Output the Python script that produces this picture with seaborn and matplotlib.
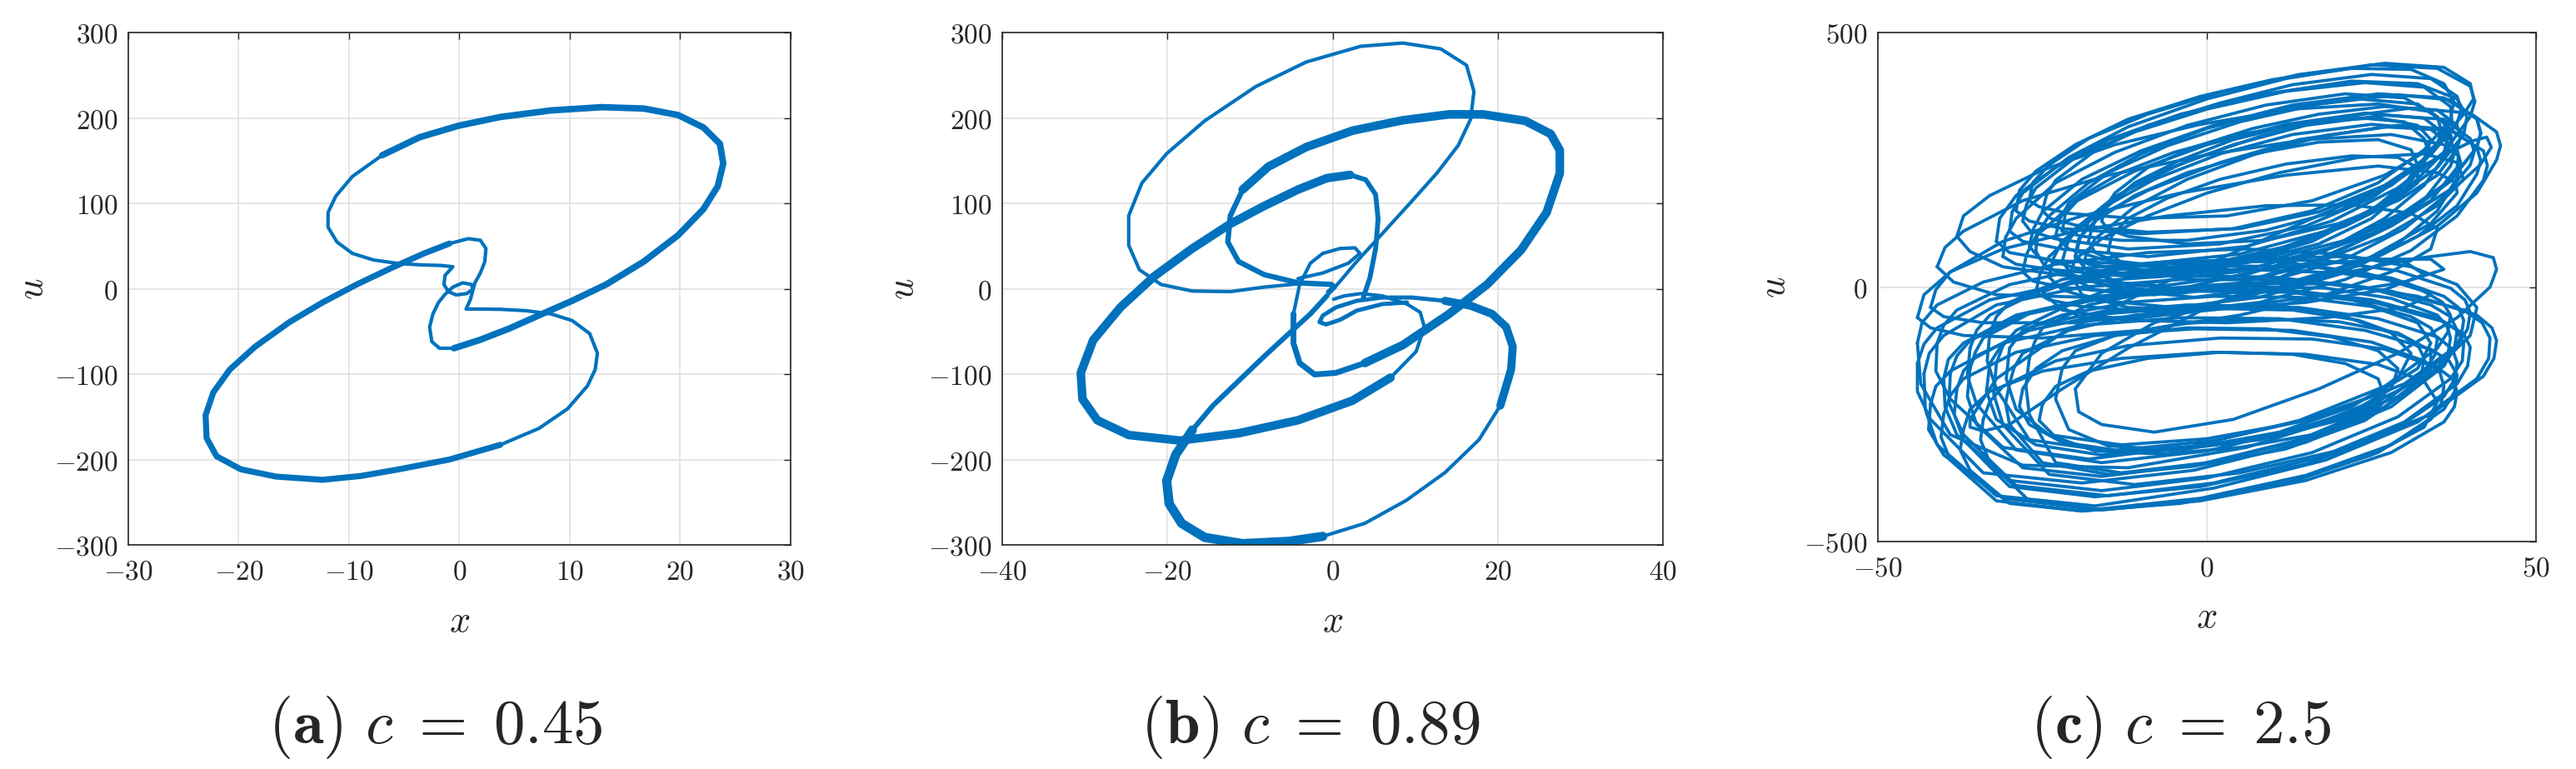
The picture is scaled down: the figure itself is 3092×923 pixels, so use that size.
import matplotlib
matplotlib.use("Agg")
import matplotlib.pyplot as plt
import pandas as pd
import seaborn as sns

BLUE = "#0072BD"

# ---------------- (a) c = 0.45 : orbit, (x, u) pairs
a_upper_band = [(-7.0, 156.3), (-3.6, 177.4), (-0.1, 190.8), (3.7, 201.1), (8.3, 208.8),
                (12.9, 212.6), (16.7, 211.0), (19.8, 203.4), (22.1, 188.9), (23.6, 169.7),
                (23.9, 146.7), (23.4, 119.9), (22.1, 93.1), (19.8, 62.5), (16.7, 31.8),
                (13.3, 5.0), (10.2, -14.2), (7.5, -29.5), (4.5, -46.7), (1.8, -60.2), (-0.5, -69.7)]
a_upper_inner = [(-0.5, -69.7), (-1.8, -69.7), (-2.5, -62.0), (-2.7, -44.8), (-2.4, -29.5),
                 (-1.9, -16.1), (-1.3, -6.5), (-0.6, 1.9), (0.3, 6.9), (1.1, 5.0), (1.2, -0.8),
                 (0.65, -5.7), (-0.3, -7.3), (-1.0, -3.4), (-1.4, 5.0), (-1.3, 15.7), (-0.6, 25.7),
                 (-1.6, 27.2), (-3.6, 28.0), (-5.5, 29.5), (-7.8, 33.7), (-9.7, 41.4), (-11.1, 54.8),
                 (-11.9, 72.0), (-11.9, 89.3), (-11.2, 108.4), (-9.7, 131.4), (-7.0, 156.3)]
a_lower_band = [(3.7, -182.8), (-0.9, -200.0), (-5.5, -211.5), (-8.9, -219.2), (-12.4, -223.8),
                (-16.6, -220.0), (-19.8, -211.5), (-22.0, -196.2), (-22.9, -175.1), (-23.0, -148.3),
                (-22.3, -121.5), (-20.8, -94.6), (-18.5, -67.8), (-15.4, -39.1), (-12.4, -16.1),
                (-9.3, 5.0), (-6.2, 24.1), (-3.2, 41.4), (-0.9, 52.9)]
a_lower_inner = [(-0.9, 52.9), (0.8, 58.6), (1.9, 56.7), (2.4, 47.1), (2.3, 31.8), (1.9, 18.4),
                 (1.4, 6.9), (1.2, -2.7), (1.0, -12.3), (0.6, -23.8), (1.8, -23.8), (3.7, -24.1),
                 (6.0, -25.7), (8.3, -29.5), (10.2, -37.2), (11.8, -52.5), (12.5, -75.5),
                 (12.3, -94.6), (11.6, -113.8), (9.8, -140.6), (7.2, -163.6), (3.7, -182.8)]

# ---------------- (b) c = 0.89
b_top_loop = [(-4.2, 5.7), (-8.3, 1.9), (-12.4, -3.4), (-17.0, -2.7), (-20.8, 5.0), (-23.4, 22.2),
              (-24.7, 51.0), (-24.7, 85.4), (-23.1, 123.8), (-20.1, 158.2), (-15.5, 196.6),
              (-9.3, 236.8), (-3.2, 265.5), (3.4, 283.9), (8.5, 287.7), (13.1, 280.8), (16.2, 261.7),
              (17.1, 231.0), (16.7, 198.5), (15.2, 167.8), (12.6, 135.2), (9.6, 102.7), (6.0, 64.4),
              (2.9, 31.8), (0.9, 8.8), (-0.7, -8.4)]
b_diag = [(-0.7, -8.4), (-2.7, -29.5), (-5.3, -52.5), (-8.3, -79.3), (-11.4, -108.0),
          (-14.5, -136.8), (-17.0, -165.5)]
b_bottom_band = [(-17.0, -165.5), (-19.0, -194.3), (-20.1, -224.9), (-19.8, -251.7), (-18.3, -274.7),
                 (-15.5, -291.2), (-10.9, -298.5), (-5.3, -295.8), (-1.2, -290.0)]
b_bottom_thin = [(-1.2, -290.0), (3.9, -274.7), (8.9, -247.9), (13.6, -215.3), (17.7, -177.0),
                 (20.3, -136.8)]
b_bottom_right = [(20.3, -136.8), (21.6, -94.6), (21.8, -67.8), (21.0, -44.8), (19.3, -29.5),
                  (16.7, -19.9), (13.6, -14.2)]
b_center_low = [(13.6, -14.2), (9.6, -10.3), (6.0, -10.3), (2.9, -14.2), (0.4, -21.8), (-1.2, -31.4),
                (-1.6, -39.1), (-0.8, -41.8), (0.9, -36.4), (2.9, -25.7), (6.0, -18.0), (9.0, -16.1)]
b_center_up = [(-4.2, 11.9), (-1.2, 18.4), (1.9, 29.9), (3.3, 41.4), (2.7, 47.9), (0.9, 47.1),
               (-1.2, 41.4), (-2.7, 29.9), (-4.0, 5.0), (-4.75, -29.5)]
b_mid_loop = [(-4.75, -29.5), (-4.75, -64.0), (-4.0, -87.0), (-2.2, -100.4), (0.4, -98.5), (3.9, -87.0)]
b_right_band = [(3.9, -87.0), (8.5, -65.9), (14.1, -29.5), (18.7, 5.0), (22.8, 45.2), (25.9, 89.3),
                (27.5, 135.2), (27.5, 162.1), (26.4, 181.2), (23.3, 196.6), (18.2, 204.2),
                (14.1, 204.2), (8.5, 197.3), (2.4, 185.1), (-3.2, 165.9), (-7.8, 142.9), (-10.9, 116.1)]
b_right_tail = [(-10.9, 116.1), (-12.4, 85.4), (-12.7, 54.8), (-11.4, 31.8), (-8.3, 16.5),
                (-4.2, 6.9), (-0.15, 5.0), (0.2, 2.0), (-0.5, -4.0)]
b_inner_top = [(3.7, -10.3), (4.5, 12.6), (5.2, 47.1), (5.5, 81.6), (5.2, 110.3), (4.0, 127.6),
               (2.1, 133.3)]
b_left_band = [(2.1, 133.3), (-0.7, 129.5), (-4.2, 116.1), (-8.3, 96.9), (-12.4, 75.9), (-17.0, 47.1),
               (-21.6, 14.6), (-25.7, -21.8), (-29.0, -60.2), (-30.5, -98.5), (-30.3, -129.1),
               (-28.5, -154.0), (-24.7, -171.3), (-18.5, -177.8), (-11.4, -169.3), (-4.2, -154.0),
               (2.4, -131.0), (7.0, -104.2)]
b_left_tail = [(7.0, -104.2), (10.1, -73.6), (11.1, -44.8), (10.6, -27.6), (9.0, -18.0), (6.0, -8.4),
               (3.4, -5.7), (1.4, -8.4), (0.1, -12.3)]

# ---------------- (c) c = 2.5 : individual laps of the chaotic orbit
c_up01 = [(-26, 70), (-25.8, 105), (-24, 140), (-18, 205), (-10, 262), (0, 312), (11, 350), (23, 370),
          (32, 360), (36.5, 320), (37.2, 292), (36.5, 265), (33, 200), (27, 135), (18, 72), (6, 25),
          (-7, 2), (-19, 15), (-24.5, 38)]
c_up02 = [(-30, 110), (-29.6, 148), (-28, 185), (-21, 255), (-12, 315), (0, 370), (12, 410), (25, 437),
          (35, 430), (40, 395), (40.7, 365), (40, 335), (36, 265), (29, 195), (19, 130), (6, 80),
          (-9, 60), (-22, 75), (-28, 90)]
c_up03 = [(-18, 90), (-17.4, 120), (-16, 150), (-11, 205), (-4, 250), (4, 290), (13, 318), (23, 333),
          (30, 325), (33, 292), (33.6, 268), (33, 245), (30, 190), (25, 135), (17, 85), (6, 48),
          (-5, 35), (-14, 50), (-17, 68)]
c_up04 = [(-24, 20), (-23.4, 55), (-22, 90), (-16, 155), (-8, 212), (2, 262), (13, 300), (25, 320),
          (34, 310), (38, 270), (38.6, 242), (38, 215), (35, 150), (29, 85), (20, 25), (8, -20),
          (-5, -40), (-17, -25), (-22, -5)]
c_up05 = [(-20, 60), (-19.3, 95), (-18, 128), (-12, 192), (-3, 248), (8, 296), (19, 332), (31, 352),
          (40, 342), (44, 305), (44.6, 278), (44, 250), (41, 185), (35, 120), (26, 60), (14, 15),
          (1, -8), (-12, 5), (-18, 30)]
c_up06 = [(-28, 130), (-27.4, 163), (-26, 195), (-20, 255), (-11, 305), (0, 350), (12, 385), (24, 402),
          (33, 393), (37, 355), (37.2, 328), (36, 300), (32, 238), (25, 175), (15, 120), (2, 85),
          (-12, 75), (-23, 95), (-26.8, 110)]
c_up07 = [(-22, 50), (-21.3, 83), (-20, 115), (-14, 178), (-6, 232), (4, 280), (15, 318), (27, 338),
          (36, 330), (40, 292), (40.6, 266), (40, 240), (36, 178), (30, 115), (21, 55), (9, 10),
          (-4, -12), (-16, 5), (-20.5, 25)]
c_up08 = [(-31, 60), (-30.6, 98), (-29, 135), (-23, 205), (-14, 265), (-3, 318), (9, 358), (21, 380),
          (30, 372), (35, 335), (35.6, 308), (35, 280), (31, 215), (25, 150), (16, 90), (3, 40),
          (-11, 20), (-24, 35), (-29, 45)]
c_up09 = [(-16, 130), (-15.3, 158), (-14, 185), (-9, 235), (-2, 275), (7, 312), (17, 340), (27, 355),
          (35, 348), (38, 318), (38.5, 295), (38, 272), (35, 220), (29, 170), (20, 125), (9, 92),
          (-3, 85), (-12, 100), (-15, 113)]
c_up10 = [(-26, -10), (-25.4, 25), (-24, 60), (-18, 130), (-9, 190), (2, 245), (14, 290), (27, 315),
          (37, 308), (42, 268), (42.6, 239), (42, 210), (38, 140), (31, 72), (21, 15), (8, -30),
          (-6, -50), (-19, -38), (-24, -25)]
c_up11 = [(-23, 100), (-22.4, 133), (-21, 165), (-15, 225), (-6, 278), (5, 325), (17, 360), (29, 378),
          (37, 368), (41, 330), (41.6, 302), (41, 275), (37, 210), (30, 148), (21, 92), (9, 52),
          (-5, 38), (-16, 55), (-21, 75)]
c_up12 = [(-28, 30), (-27.4, 65), (-26, 100), (-20, 168), (-11, 228), (0, 280), (12, 320), (24, 342),
          (33, 332), (37, 292), (37.6, 265), (37, 238), (33, 172), (26, 108), (16, 50), (4, 5),
          (-10, -15), (-22, 0), (-26.5, 12)]
c_up13 = [(-19, 30), (-18.4, 62), (-17, 95), (-11, 158), (-3, 212), (7, 260), (18, 298), (29, 318),
          (37, 310), (41, 275), (41.6, 248), (41, 222), (38, 160), (32, 100), (23, 42), (11, 0),
          (-2, -20), (-13, -5), (-17.5, 12)]
c_up14 = [(-25, 150), (-24.4, 180), (-23, 210), (-17, 268), (-9, 318), (2, 362), (13, 398), (25, 418),
          (34, 410), (38, 375), (38.6, 348), (38, 322), (34, 260), (27, 200), (17, 148), (5, 115),
          (-9, 108), (-20, 122), (-23.8, 135)]
c_up15 = [(-27, 80), (-26.4, 114), (-25, 148), (-19, 212), (-10, 268), (1, 318), (13, 358), (26, 380),
          (36, 372), (41, 332), (41.6, 303), (41, 275), (37, 208), (30, 142), (20, 82), (7, 38),
          (-8, 20), (-20, 38), (-25.5, 58)]
c_up16 = [(-20, 60), (-19.5, 95), (-17, 130), (-11, 180), (-3, 225), (7, 262), (17, 285), (26, 290),
          (31, 270), (32, 240), (30, 200), (25, 150), (17, 100), (7, 60), (-3, 35), (-12, 35), (-18, 45)]
c_up17 = [(-22, 110), (-21.5, 145), (-19, 180), (-13, 225), (-5, 265), (5, 300), (16, 325), (26, 333),
          (32, 318), (34, 290), (33, 250), (28, 200), (20, 150), (9, 112), (-3, 92), (-13, 92), (-19, 100)]
c_up18 = [(-29, 150), (-28.5, 190), (-26, 228), (-20, 280), (-12, 330), (-1, 375), (10, 408), (22, 430),
          (31, 428), (36, 400), (37.5, 365), (37, 330), (33, 270), (26, 205), (16, 150), (4, 115),
          (-10, 105), (-22, 115), (-27, 130)]
c_up19 = [(-32, 90), (-31.5, 135), (-29, 180), (-23, 235), (-15, 290), (-4, 340), (9, 380), (22, 405),
          (32, 400), (38, 370), (39.5, 335), (39, 300), (35, 235), (28, 170), (18, 110), (5, 65),
          (-10, 45), (-23, 52), (-30, 68)]
c_up20 = [(-27, 170), (-26.5, 205), (-24, 240), (-18, 292), (-9, 340), (2, 383), (14, 418), (27, 440),
          (36, 432), (40, 400), (40.5, 370), (39, 340), (35, 280), (27, 220), (16, 170), (3, 140),
          (-11, 135), (-21, 145), (-25.5, 158)]
c_up21 = [(-15, 70), (-14.5, 100), (-12, 135), (-6, 175), (2, 212), (12, 242), (22, 258), (29, 255),
          (32, 235), (32, 205), (28, 165), (21, 120), (12, 80), (2, 50), (-7, 38), (-13, 48)]
c_up22 = [(-21, 20), (-20, 55), (-16, 95), (-9, 140), (0, 185), (11, 225), (23, 255), (33, 262),
          (38, 245), (39, 212), (35, 160), (27, 100), (16, 45), (4, 5), (-8, -15), (-17, -5)]
c_lo01 = [(-40, -180), (-39.3, -142), (-37, -110), (-29, -55), (-17, -20), (-3, -5), (12, -5), (25, -25),
          (35, -60), (37.8, -83), (39, -110), (38.8, -145), (37, -180), (29, -255), (16, -325), (0, -375),
          (-16, -400), (-30, -380), (-38, -290), (-39.8, -235)]
c_lo02 = [(-43, -170), (-42.2, -130), (-40, -95), (-32, -35), (-19, 0), (-4, 15), (13, 14), (28, -8),
          (39, -45), (41.8, -70), (43, -100), (42.8, -140), (41, -180), (32, -265), (18, -340), (1, -395),
          (-17, -430), (-32, -410), (-41, -310), (-42.8, -240)]
c_lo03 = [(-30, -190), (-29.3, -158), (-28, -130), (-21, -85), (-11, -55), (1, -42), (13, -45),
          (23, -65), (30, -98), (32.2, -118), (33, -140), (32.6, -170), (31, -200), (24, -262),
          (12, -318), (-2, -352), (-15, -368), (-25, -345), (-30, -270), (-30.6, -228)]
c_lo04 = [(-36, -120), (-35, -85), (-33, -55), (-25, -5), (-13, 28), (1, 42), (16, 40), (28, 18),
          (36, -18), (38.2, -40), (39, -65), (38.6, -98), (37, -130), (29, -205), (16, -272), (0, -322),
          (-16, -345), (-29, -320), (-35, -230), (-36.4, -175)]
c_lo05 = [(-42, -230), (-41.2, -195), (-39, -165), (-31, -110), (-19, -75), (-4, -60), (11, -62),
          (24, -85), (34, -122), (36.8, -145), (38, -172), (37.6, -206), (36, -240), (28, -310),
          (15, -370), (-1, -415), (-17, -437), (-31, -415), (-40, -330), (-42.3, -280)]
c_lo06 = [(-32, -150), (-31, -115), (-29, -85), (-21, -35), (-9, -5), (5, 8), (20, 6), (32, -18),
          (41, -55), (43.3, -80), (44, -105), (43.6, -140), (42, -175), (34, -250), (21, -318),
          (5, -365), (-11, -388), (-24, -368), (-31, -270), (-32.4, -210)]
c_lo07 = [(-38, -200), (-37, -165), (-35, -135), (-27, -85), (-15, -52), (-1, -38), (14, -40),
          (26, -62), (35, -98), (37.3, -122), (38, -148), (37.6, -182), (36, -215), (28, -285),
          (15, -348), (-1, -392), (-17, -412), (-30, -392), (-37, -300), (-38.4, -250)]
c_lo08 = [(-41, -110), (-40, -75), (-38, -45), (-30, 5), (-18, 38), (-4, 52), (11, 50), (24, 28),
          (33, -8), (35.8, -30), (37, -55), (36.6, -88), (35, -120), (27, -195), (14, -262), (-2, -312),
          (-18, -338), (-31, -315), (-39, -220), (-41.2, -165)]
c_lo09 = [(-34, -260), (-33, -225), (-31, -195), (-23, -145), (-12, -115), (2, -100), (16, -102),
          (27, -122), (35, -158), (37.3, -180), (38, -205), (37.6, -235), (36, -265), (28, -325),
          (15, -380), (-1, -420), (-16, -438), (-27, -420), (-33, -345), (-34.4, -300)]
c_lo10 = [(-27, -140), (-26.2, -108), (-25, -80), (-18, -35), (-8, -8), (5, 2), (18, -2), (28, -22),
          (35, -55), (36.5, -78), (37, -100), (36.6, -132), (35, -165), (27, -235), (15, -300),
          (0, -345), (-13, -365), (-23, -345), (-27, -250), (-27.5, -195)]
c_lo11 = [(-44, -150), (-43, -112), (-41, -80), (-33, -25), (-21, 8), (-6, 22), (10, 20), (24, 0),
          (34, -35), (37, -58), (38, -85), (37.6, -120), (36, -155), (28, -235), (15, -305), (-2, -360),
          (-19, -385), (-34, -365), (-42, -260), (-44, -205)]
c_lo12 = [(-39, -170), (-38, -135), (-36, -105), (-28, -55), (-16, -22), (-2, -8), (13, -10), (26, -32),
          (36, -68), (39, -92), (40, -118), (39.6, -155), (38, -190), (30, -265), (17, -335), (1, -385),
          (-15, -410), (-29, -390), (-37, -290), (-39.2, -228)]
c_lo13 = [(-33, -90), (-32, -58), (-30, -30), (-22, 15), (-10, 42), (4, 55), (18, 52), (29, 32),
          (37, -2), (39.2, -25), (40, -50), (39.6, -82), (38, -115), (30, -190), (17, -255), (1, -302),
          (-15, -322), (-27, -300), (-32, -200), (-33.4, -145)]
c_lo14 = [(-40, -250), (-39, -213), (-37, -180), (-29, -128), (-17, -95), (-2, -82), (13, -85),
          (25, -108), (33, -145), (35.4, -168), (36, -195), (35.6, -228), (34, -260), (26, -325),
          (13, -382), (-3, -422), (-19, -440), (-32, -420), (-39, -340), (-40.4, -295)]
c_lo15 = [(-36, -160), (-35.2, -128), (-34, -100), (-27, -52), (-16, -20), (-3, -6), (10, -6),
          (22, -25), (31, -58), (34, -80), (35, -102), (34.6, -134), (33, -165), (26, -235), (14, -300),
          (-1, -348), (-16, -372), (-28, -355), (-35, -270), (-36.4, -215)]
c_lo16 = [(-28, -200), (-26, -160), (-22, -125), (-14, -95), (-3, -80), (9, -82), (19, -98), (26, -125),
          (29, -160), (28, -200), (22, -245), (12, -285), (-1, -312), (-13, -322), (-22, -305),
          (-27, -270), (-28.5, -235)]
c_lo17 = [(-33, -150), (-31, -110), (-26, -75), (-16, -48), (-3, -35), (10, -38), (21, -58), (28, -90),
          (31, -130), (29, -180), (22, -235), (11, -285), (-3, -318), (-16, -330), (-26, -310),
          (-32, -260), (-33.5, -205)]
c_lo18 = [(-44, -110), (-43.3, -70), (-41, -35), (-34, 10), (-23, 45), (-9, 68), (6, 75), (20, 65),
          (31, 40), (38, 5), (41, -40), (40, -95), (34, -170), (22, -250), (6, -315), (-12, -355),
          (-28, -350), (-39, -290), (-43.5, -190)]
c_lo19 = [(-37, -280), (-36, -240), (-33, -205), (-25, -165), (-13, -140), (1, -128), (15, -132),
          (26, -152), (33, -185), (35, -225), (33, -275), (25, -330), (12, -385), (-4, -425), (-19, -440),
          (-30, -425), (-36, -360), (-37.5, -320)]
c_lo20 = [(-25, -230), (-23, -195), (-18, -165), (-9, -140), (2, -128), (13, -132), (21, -150),
          (26, -180), (27, -215), (24, -255), (16, -290), (5, -315), (-7, -328), (-17, -322), (-23, -295),
          (-25.5, -262)]
c_lo21 = [(-30, -120), (-28, -85), (-22, -55), (-12, -30), (1, -18), (14, -20), (25, -38), (32, -70),
          (34, -110), (32, -160), (25, -215), (14, -265), (0, -298), (-13, -310), (-24, -290), (-29, -240),
          (-30.5, -180)]
c_lo22 = [(-22, -160), (-20, -125), (-14, -95), (-4, -72), (8, -62), (20, -68), (29, -90), (34, -125),
          (34, -165), (29, -215), (20, -262), (8, -300), (-5, -320), (-15, -312), (-21, -280), (-23, -220)]
c_mid1 = [(-22, -40), (-15, -5), (-3, 20), (12, 40), (26, 55), (34, 55), (36, 35), (30, 10), (18, -15),
          (4, -40), (-10, -60), (-19, -60)]
c_mid2 = [(-18, 30), (-8, 45), (6, 55), (20, 60), (30, 50), (33, 25), (27, -5), (15, -30), (0, -45),
          (-12, -40), (-19, -15), (-20, 10)]
c_mid3 = [(-25, -10), (-20, 15), (-10, 30), (5, 35), (20, 28), (30, 10), (34, -15), (30, -40), (18, -60),
          (3, -70), (-12, -65), (-22, -45)]
c_wide1 = [(-41, 40), (-39.8, 78), (-37, 110), (-28, 170), (-15, 220), (0, 260), (15, 290), (28, 300),
           (36, 280), (38.2, 258), (38, 235), (34, 170), (25, 105), (12, 45), (-3, 0), (-18, -20),
           (-32, -15), (-38.5, 10)]
c_wide2 = [(-42, -40), (-41.2, -5), (-39, 30), (-31, 90), (-19, 140), (-4, 185), (12, 220), (26, 238),
           (35, 225), (37.8, 205), (38, 185), (34, 125), (25, 60), (12, 0), (-4, -45), (-20, -70),
           (-34, -70), (-40, -58)]
c_wide3 = [(-20, -200), (-16, -130), (-8, -70), (4, -20), (18, 20), (31, 55), (40, 70), (43.5, 58),
           (44, 35), (43, 0), (38, -60), (29, -130), (17, -200), (4, -260), (-8, -285), (-16, -270),
           (-19.5, -245)]
c_wide4 = [(-38, 100), (-37, 140), (-33, 180), (-25, 230), (-14, 280), (-1, 320), (13, 350), (26, 360),
           (34, 345), (37, 310), (36, 265), (31, 200), (22, 130), (10, 70), (-5, 30), (-20, 20),
           (-31, 40), (-36, 70)]
c_wide5 = [(-44, -60), (-43, -15), (-39, 30), (-31, 75), (-20, 110), (-6, 140), (9, 160), (22, 162),
           (31, 145), (35, 115), (34, 75), (28, 30), (18, -15), (5, -55), (-10, -85), (-25, -100),
           (-37, -95), (-42, -80)]
c_cross1 = [(-36, -260), (-32, -180), (-22, -90), (-8, 0), (8, 90), (24, 180), (36, 260), (40.5, 288),
            (42.5, 295), (43.2, 275), (41.5, 240), (38, 200), (28, 120), (15, 40), (0, -40),
            (-12, -120), (-22, -200), (-30, -270), (-34, -283), (-36, -275)]

x_ticks = [[-30, -20, -10, 0, 10, 20, 30], [-40, -20, 0, 20, 40], [-50, 0, 50]]
u_ticks = [[-300, -200, -100, 0, 100, 200, 300], [-300, -200, -100, 0, 100, 200, 300], [-500, 0, 500]]
captions = [r"$(\mathbf{a})\ c\;=\;0.45$", r"$(\mathbf{b})\ c\;=\;0.89$", r"$(\mathbf{c})\ c\;=\;2.5$"]

a_pieces = [a_upper_band, a_upper_inner, a_lower_band, a_lower_inner]
b_pieces = [b_top_loop, b_diag, b_bottom_band, b_bottom_thin, b_bottom_right, b_center_low,
            b_center_up, b_mid_loop, b_right_band, b_right_tail, b_inner_top, b_left_band, b_left_tail]
c_laps = [c_up01, c_up02, c_up03, c_up04, c_up05, c_up06, c_up07, c_up08, c_up09, c_up10, c_up11,
          c_up12, c_up13, c_up14, c_up15, c_up16, c_up17, c_up18, c_up19, c_up20, c_up21, c_up22,
          c_lo01, c_lo02, c_lo03, c_lo04, c_lo05, c_lo06, c_lo07, c_lo08, c_lo09, c_lo10, c_lo11,
          c_lo12, c_lo13, c_lo14, c_lo15, c_lo16, c_lo17, c_lo18, c_lo19, c_lo20, c_lo21, c_lo22,
          c_mid1, c_mid2, c_mid3, c_wide1, c_wide2, c_wide3, c_wide4, c_wide5, c_cross1]

# line widths (points) for each traced piece
a_widths = [5.6, 3.0, 5.2, 3.0]
b_widths = [3.0, 4.4, 8.0, 3.0, 7.0, 3.6, 3.0, 5.0, 7.4, 4.6, 4.2, 7.4, 3.0]

sns.set_style("white")
plt.rcParams["mathtext.fontset"] = "cm"
plt.rcParams["font.family"] = ["DejaVu Serif"]

fig = plt.figure(figsize=(30.92, 9.23), dpi=100)
axes = [fig.add_axes([0.0498, 0.2914, 0.2571, 0.6663]),
        fig.add_axes([0.3891, 0.2914, 0.2565, 0.6663]),
        fig.add_axes([0.7290, 0.2958, 0.2555, 0.6616])]


def draw_pieces(ax, pieces, widths):
    for pts, lw in zip(pieces, widths):
        df = pd.DataFrame(pts, columns=["x", "u"])
        sns.lineplot(data=df, x="x", y="u", sort=False, estimator=None, color=BLUE, lw=lw,
                     ax=ax, solid_capstyle="round", solid_joinstyle="round")


draw_pieces(axes[0], a_pieces, a_widths)
draw_pieces(axes[1], b_pieces, b_widths)

# each lap of (c) is a closed loop
rows = []
for i, lap in enumerate(c_laps):
    for x, u in lap + lap[:1]:
        rows.append((i, x, u))
df_c = pd.DataFrame(rows, columns=["lap", "x", "u"])
sns.lineplot(data=df_c, x="x", y="u", units="lap", estimator=None, sort=False, color=BLUE,
             lw=2.7, ax=axes[2], solid_joinstyle="round")

ylabel_x = [-0.146, -0.151, -0.158]
cap_x = [523 / 3092, 1573 / 3092, 2618 / 3092]
for k, ax in enumerate(axes):
    xt, ut = x_ticks[k], u_ticks[k]
    ax.set_xlim(xt[0], xt[-1])
    ax.set_ylim(ut[0], ut[-1])
    ax.set_xticks(xt, [f"${t}$" for t in xt])
    ax.set_yticks(ut, [f"${t}$" for t in ut])
    ax.grid(True, color="#dedede", lw=1.1)
    ax.set_axisbelow(True)
    ax.tick_params(direction="in", top=True, right=True, length=6, width=1.0,
                   colors="#262626", labelsize=24)
    ax.tick_params(axis="x", pad=12)
    ax.tick_params(axis="y", pad=9)
    for sp in ax.spines.values():
        sp.set_linewidth(1.2)
        sp.set_color("#262626")
    ax.set_xlabel("$x$", fontsize=32, color="#262626")
    ax.set_ylabel("$u$", fontsize=32, color="#262626", rotation=90)
    ax.xaxis.set_label_coords(0.5, -0.148)
    ax.xaxis.label.set_va("center")
    ax.yaxis.set_label_coords(ylabel_x[k], 0.5)
    ax.yaxis.label.set_va("center")
    fig.text(cap_x[k], 0.0336, captions[k], ha="center", va="baseline", fontsize=54)

fig.savefig("out.png", dpi=100)
